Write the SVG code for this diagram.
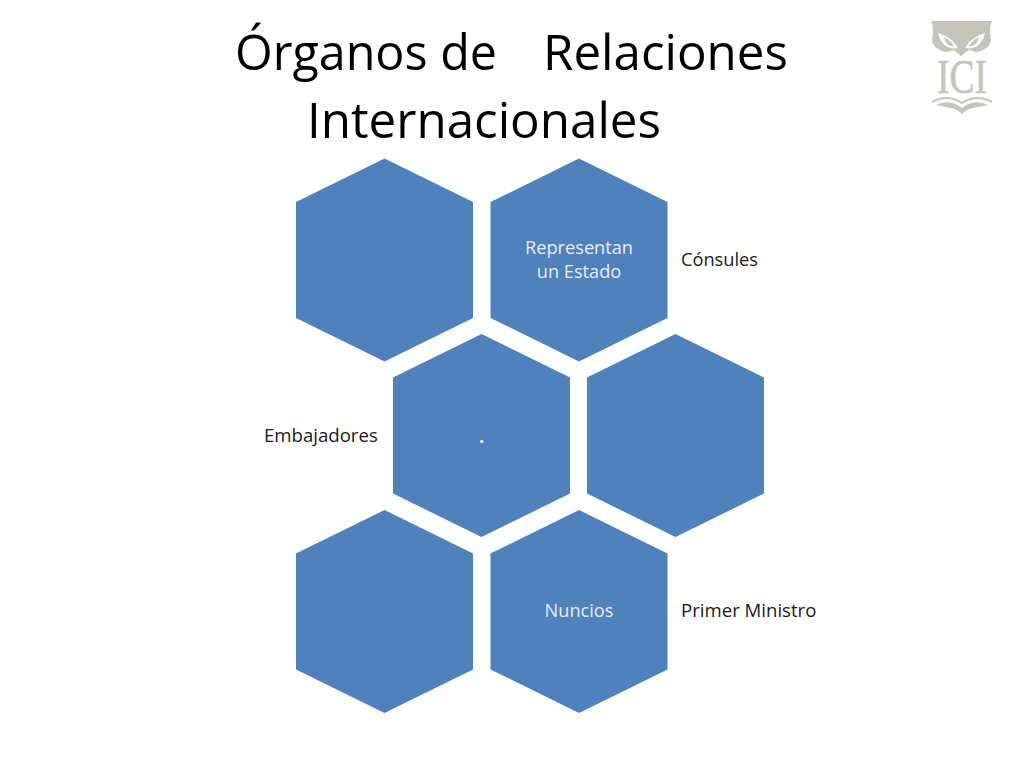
<svg xmlns="http://www.w3.org/2000/svg" width="1024" height="768" viewBox="0 0 1024 768">
<style>
text{font-family:"Open Sans","Noto Sans","Liberation Sans",sans-serif}
.t{font-size:48.5px;fill:#000}
.w{font-size:18.2px;fill:#e8eef7;text-anchor:middle}
.k{font-size:18.6px;fill:#1a1a1a}
.h{fill:#4f81bd}
.l{fill:#c4c4bd}
</style>
<defs><polygon id="hex" class="h" points="0,-101.5 88.5,-58 88.5,58 0,101.5 -88.5,58 -88.5,-58"/></defs>
<rect width="1024" height="768" fill="#fff"/>
<g id="title">
<text class="t" x="235" y="70" textLength="262" lengthAdjust="spacingAndGlyphs">Órganos de</text>
<text class="t" x="543" y="70" textLength="245" lengthAdjust="spacingAndGlyphs">Relaciones</text>
<text class="t" x="307" y="138" textLength="354" lengthAdjust="spacingAndGlyphs">Internacionales</text>
</g>
<g id="logo">
<path class="l" d="M931 21 L992 21 C989 28 990 34 991 40 C990 47 984 51 976 52 L969 50 L961 56 L954 50 L947 52 C939 51 933 47 932 40 C933 34 934 28 931 21Z"/>
<path fill="#fff" d="M938 33 C946 35 954 41 958 48 C950 50 941 46 938 33Z M985 33 C977 35 969 41 965 48 C973 50 982 46 985 33Z"/>
<path class="l" d="M944 37 C948 39 952 42 954 46 C948 47 945 42 944 37Z M979 37 C975 39 971 42 969 46 C975 47 978 42 979 37Z"/>
<text x="962" y="93" font-size="48" text-anchor="middle" style="font-family:'Liberation Serif',serif" fill="#c4c4bd" stroke="#c4c4bd" stroke-width="0.6" textLength="50" lengthAdjust="spacingAndGlyphs">ICI</text>
<path fill="none" stroke="#c4c4bd" stroke-width="2" d="M932 102 C943 96 953 97 962 103 C971 97 981 96 992 102"/>
<path class="l" d="M936 105 C946 100 955 102 962 108 C969 102 978 100 988 105 L973 108 C968 109 965 111 962 114 C959 111 956 109 951 108Z"/>
</g>
<g id="connectors"></g>
<g id="node-1"><use href="#hex" x="384.5" y="260"/></g>
<g id="node-2"><use href="#hex" x="579" y="260"/>
<text class="w" x="579" y="253.5">Representan</text>
<text class="w" x="579" y="278">un Estado</text></g>
<g id="node-3"><use href="#hex" x="481.5" y="435.5"/>
<text class="w" x="481.5" y="443" font-weight="bold">.</text></g>
<g id="node-4"><use href="#hex" x="675.5" y="435.5"/></g>
<g id="node-5"><use href="#hex" x="384.5" y="611.5"/></g>
<g id="node-6"><use href="#hex" x="579" y="611.5"/>
<text class="w" x="579" y="616.5">Nuncios</text></g>
<g id="labels">
<text class="k" x="681" y="266" textLength="77" lengthAdjust="spacingAndGlyphs">Cónsules</text>
<text class="k" x="264" y="441.5">Embajadores</text>
<text class="k" x="681" y="616.5">Primer Ministro</text>
</g>
</svg>
